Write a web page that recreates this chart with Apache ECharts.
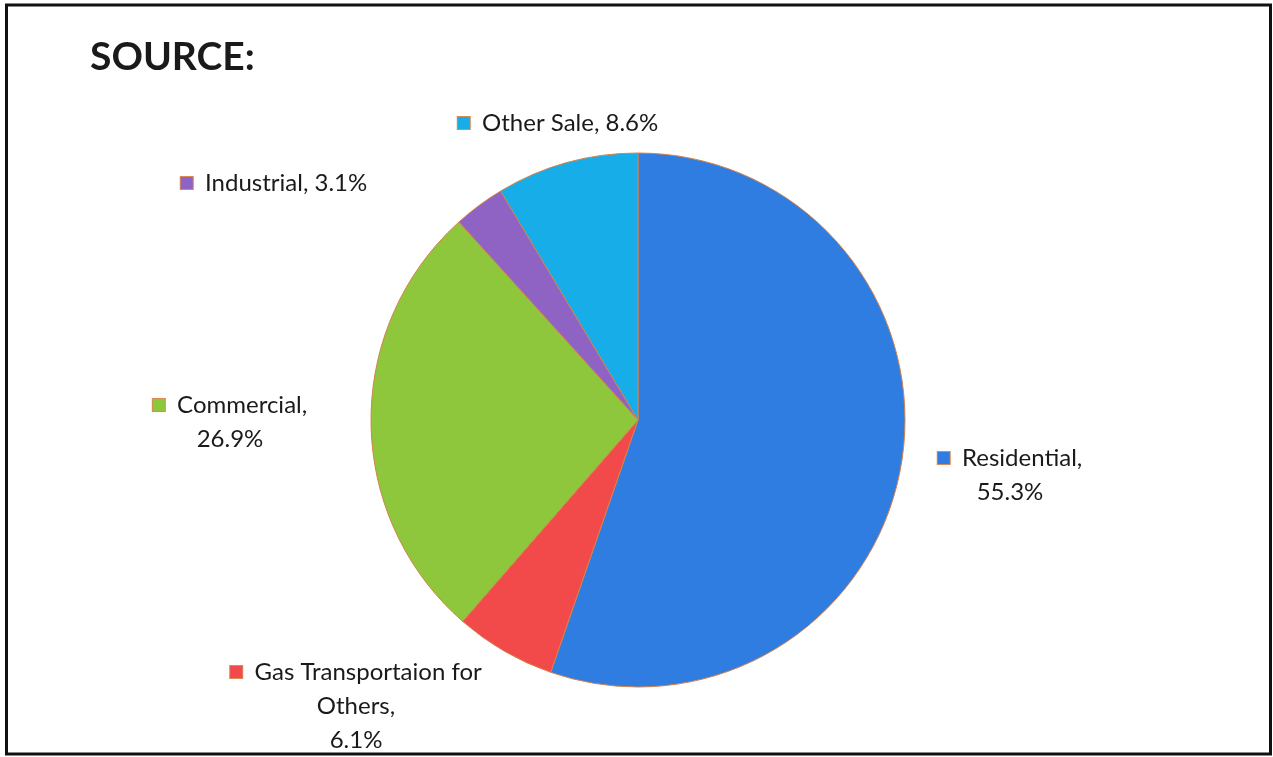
<!DOCTYPE html>
<html>
<head>
<meta charset="utf-8">
<script src="https://cdn.jsdelivr.net/npm/echarts@6/dist/echarts.min.js"></script>
<style>
html,body{margin:0;padding:0;background:#fff;}
#c{width:1273px;height:757px;}
</style>
</head>
<body>
<div id="c"></div>
<script>
const titleText = 'SOURCE:';
const categories = ['Residential', 'Gas Transportaion for\nOthers', 'Commercial', 'Industrial', 'Other Sale'];
const values = [55.3, 6.1, 26.9, 3.1, 8.6];
const colors = ['#2f7de1', '#f24a4a', '#8fc73c', '#8e63c4', '#17ade8'];
// label anchor points (centre of each label block)
const labelX = [1010, 356, 230, 274, 558];
const labelY = [475, 706, 422, 183, 123];
const labelText = [
  '{m0|}  Residential,\n55.3%',
  '{m1|}  Gas Transportaion for\nOthers,\n6.1%',
  '{m2|}  Commercial,\n26.9%',
  '{m3|}  Industrial, 3.1%',
  '{m4|}  Other Sale, 8.6%'
];

const rich = {};
colors.forEach((c, i) => {
  rich['m' + i] = {width: 12, height: 12, backgroundColor: c, borderColor: '#d98a55', borderWidth: 1};
});

const chart = echarts.init(document.getElementById('c'));
chart.setOption({
  backgroundColor: '#fff',
  animation: false,
  title: {
    text: titleText, left: 85, top: 33,
    textStyle: {fontFamily: 'Lato', fontWeight: 'bold', fontSize: 39, color: '#1a1a1a'}
  },
  graphic: [{
    type: 'rect', shape: {x: 6.5, y: 5, width: 1264, height: 749},
    style: {fill: 'none', stroke: '#111', lineWidth: 3}, silent: true, z: 100
  }],
  series: [{
    type: 'pie',
    center: [638, 420],
    radius: 267,
    startAngle: 90,
    clockwise: true,
    avoidLabelOverlap: false,
    itemStyle: {borderColor: '#d4834a', borderWidth: 1},
    labelLine: {show: false},
    label: {
      show: true, position: 'outside',
      fontFamily: 'Lato', fontSize: 24, color: '#1a1a1a', lineHeight: 34,
      align: 'center',
      formatter: p => labelText[p.dataIndex],
      rich: rich
    },
    labelLayout: p => ({x: labelX[p.dataIndex], y: labelY[p.dataIndex], align: 'center', verticalAlign: 'middle'}),
    data: categories.map((n, i) => ({name: n, value: values[i], itemStyle: {color: colors[i]}}))
  }]
});
</script>
</body>
</html>
